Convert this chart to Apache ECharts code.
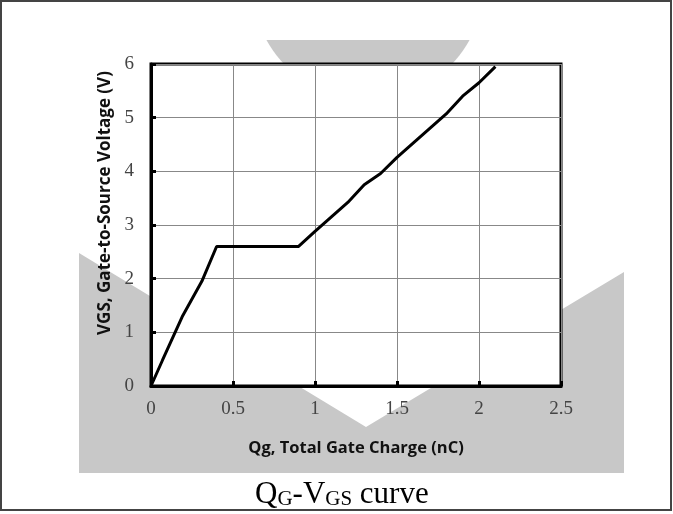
<!DOCTYPE html>
<html>
<head>
<meta charset="utf-8">
<script src="https://cdn.jsdelivr.net/npm/echarts@6/dist/echarts.min.js"></script>
<style>
  html, body { margin: 0; padding: 0; background: #fff; }
  #chart { width: 673px; height: 514px; }
</style>
</head>
<body>
<div id="chart"></div>
<script>
// gate charge curve
const qg = [0, 0.07, 0.19, 0.31, 0.4, 0.9, 1.0, 1.1, 1.2, 1.3, 1.4, 1.5, 1.6, 1.7, 1.8, 1.9, 2.0, 2.1];
const vgs = [0, 0.48, 1.29, 1.95, 2.6, 2.6, 2.88, 3.15, 3.42, 3.75, 3.96, 4.26, 4.53, 4.8, 5.07, 5.4, 5.65, 5.95];

const xTicks = [0, 0.5, 1, 1.5, 2, 2.5];
const yTicks = [0, 1, 2, 3, 4, 5, 6];

const gray = '#c8c8c8';

// top watermark cap: lower part of a circle, cut flat at y=40
function capPoints() {
    const cx = 368, cy = -16, r = 116, cut = 40;
    const pts = [];
    const a0 = Math.asin((cut - cy) / r);
    const steps = 40;
    for (let i = 0; i <= steps; i++) {
        const a = a0 + (Math.PI - 2 * a0) * i / steps;
        pts.push([cx + r * Math.cos(a), cy + r * Math.sin(a)]);
    }
    return pts;
}

const chart = echarts.init(document.getElementById('chart'));

chart.setOption({
    animation: false,
    backgroundColor: '#fff',
    title: {
        text: '{a|Q}{b|G}{a|-V}{b|GS}{a| curve}',
        left: 250,
        top: 475,
        textStyle: {
            fontWeight: 'normal',
            rich: {
                a: { fontFamily: 'Liberation Serif', fontWeight: 'normal', fontSize: 31, color: '#000', lineHeight: 30, verticalAlign: 'bottom' },
                b: { fontFamily: 'Liberation Serif', fontWeight: 'normal', fontSize: 21, color: '#000', lineHeight: 22, verticalAlign: 'bottom' }
            }
        }
    },
    graphic: [
        {
            type: 'polygon',
            z: -10,
            shape: { points: [[79, 253], [366, 427], [624, 272], [624, 473], [79, 473]] },
            style: { fill: gray }
        },
        {
            type: 'polygon',
            z: -10,
            shape: { points: capPoints() },
            style: { fill: gray }
        },
        {
            type: 'rect',
            z: 100,
            shape: { x: 1, y: 1, width: 670, height: 509 },
            style: { fill: 'none', stroke: '#444', lineWidth: 2 }
        }
    ],
    grid: {
        left: 151,
        top: 64,
        width: 410,
        height: 322,
        show: true,
        backgroundColor: '#fff',
        borderColor: '#000',
        borderWidth: 3
    },
    xAxis: {
        type: 'value',
        min: 0,
        max: 2.5,
        interval: 0.5,
        name: 'Qg, Total Gate Charge (nC)',
        nameLocation: 'middle',
        nameGap: 54,
        nameTextStyle: { fontFamily: 'Open Sans', fontWeight: 'bold', fontSize: 16.5, color: '#111' },
        axisLine: { lineStyle: { color: '#000', width: 3 } },
        axisTick: { inside: true, length: 5, lineStyle: { color: '#000', width: 3 } },
        axisLabel: {
            margin: 14,
            fontFamily: 'Liberation Serif',
            fontSize: 19,
            color: '#444',
            formatter: v => xTicks.includes(v) ? String(v) : ''
        },
        splitLine: { lineStyle: { color: '#888', width: 1 } }
    },
    yAxis: {
        type: 'value',
        min: 0,
        max: 6,
        interval: 1,
        name: 'VGS, Gate-to-Source Voltage (V)',
        nameLocation: 'middle',
        nameGap: 33,
        nameTextStyle: {
            fontFamily: 'Open Sans', fontWeight: 'bold', fontSize: 17, color: '#111',
            padding: [0, 0, 0, 44]
        },
        axisLine: { lineStyle: { color: '#000', width: 3 } },
        axisTick: { inside: true, length: 5, lineStyle: { color: '#000', width: 3 } },
        axisLabel: {
            margin: 17,
            fontFamily: 'Liberation Serif',
            fontSize: 19,
            color: '#444',
            formatter: v => yTicks.includes(v) ? String(v) : ''
        },
        splitLine: { lineStyle: { color: '#888', width: 1 } }
    },
    series: [{
        type: 'line',
        data: qg.map((q, i) => [q, vgs[i]]),
        showSymbol: false,
        lineStyle: { color: '#000', width: 3 },
        z: 5
    }]
});
</script>
</body>
</html>
